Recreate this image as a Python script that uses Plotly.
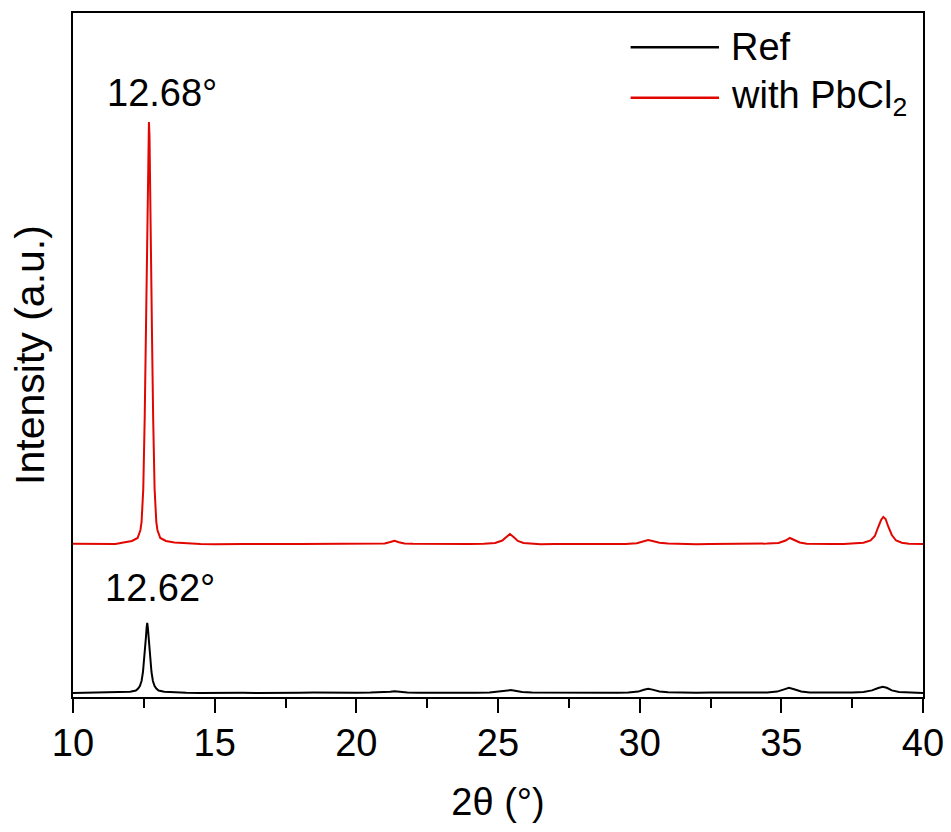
import plotly.graph_objects as go

# XRD patterns, 2θ in degrees vs. intensity (a.u.)
ref_2theta = [10.0, 10.5, 11.0, 11.5, 11.62, 12.02, 12.22, 12.30, 12.36, 12.42, 12.47, 12.51,
              12.545, 12.575, 12.60, 12.62, 12.64, 12.665, 12.695, 12.73, 12.77, 12.82, 12.88,
              12.94, 13.02, 13.22, 13.62, 14.0, 14.5, 15.0, 15.5, 16.0, 16.5, 17.0, 17.5, 18.0,
              18.5, 19.0, 19.5, 20.0, 20.5, 21.0, 21.2, 21.35, 21.5, 21.8, 22.2, 22.7, 23.2,
              23.7, 24.2, 24.7, 25.05, 25.3, 25.45, 25.6, 25.85, 26.2, 26.7, 27.2, 27.7, 28.2,
              28.7, 29.2, 29.6, 29.95, 30.15, 30.3, 30.45, 30.7, 31.0, 31.5, 32.0, 32.5, 33.0,
              33.5, 34.0, 34.5, 34.85, 35.1, 35.27, 35.45, 35.7, 36.0, 36.5, 37.0, 37.5, 37.9,
              38.2, 38.42, 38.58, 38.72, 38.9, 39.15, 39.5, 39.8, 40.0]
ref_intensity = [4.0, 4.3, 4.0, 4.4, 4.4, 5.2, 6.5, 8.5, 11, 16, 25, 36,
                 48, 60, 70, 74, 70, 60, 48, 36, 25, 16, 11,
                 8.5, 6.5, 5.2, 4.4, 4.2, 4.0, 4.3, 4.1, 4.2, 4.0, 4.3, 4.1, 4.2,
                 4.4, 4.1, 4.3, 4.2, 4.4, 4.6, 5.3, 5.8, 5.2, 4.6, 4.3, 4.2, 4.4,
                 4.2, 4.3, 4.6, 5.6, 6.6, 6.9, 6.2, 5.0, 4.4, 4.3, 4.1, 4.3, 4.2,
                 4.4, 4.2, 4.5, 5.4, 7.3, 8.3, 7.4, 5.6, 4.7, 4.3, 4.2, 4.4, 4.2,
                 4.3, 4.4, 4.6, 5.4, 7.6, 9.2, 7.8, 5.5, 4.6, 4.3, 4.2, 4.4, 5.0,
                 6.6, 9.0, 10.3, 9.2, 6.6, 5.0, 4.4, 4.2, 4.1]

pbcl2_2theta = [10.0, 10.5, 11.0, 11.5, 11.78, 12.08, 12.28, 12.38, 12.42, 12.48, 12.53, 12.57,
                12.60, 12.63, 12.66, 12.68, 12.70, 12.73, 12.76, 12.79, 12.83, 12.88, 12.94,
                12.98, 13.08, 13.28, 13.58, 14.0, 14.5, 15.0, 15.5, 16.0, 16.5, 17.0, 17.5,
                18.0, 18.5, 19.0, 19.5, 20.0, 20.5, 21.0, 21.2, 21.35, 21.5, 21.7, 22.0, 22.5,
                23.0, 23.5, 24.0, 24.5, 24.9, 25.15, 25.3, 25.42, 25.55, 25.7, 25.9, 26.2,
                26.5, 27.0, 27.5, 28.0, 28.5, 29.0, 29.5, 29.9, 30.15, 30.3, 30.45, 30.7, 31.0,
                31.5, 32.0, 32.5, 33.0, 33.5, 34.0, 34.5, 34.9, 35.15, 35.3, 35.45, 35.65,
                35.9, 36.3, 36.8, 37.2, 37.6, 37.9, 38.15, 38.3, 38.42, 38.52, 38.6, 38.68,
                38.78, 38.9, 39.05, 39.25, 39.5, 39.8, 40.0]
pbcl2_intensity = [5.2, 4.9, 5.3, 5.0, 6.5, 8, 11, 19, 27, 60, 130, 210,
                   285, 360, 413, 427, 413, 360, 285, 210, 130, 60, 27,
                   19, 11, 8, 6.5, 5.6, 5.1, 4.8, 5.2, 4.9, 5.0, 4.7, 5.1,
                   4.9, 5.0, 5.2, 4.9, 5.0, 5.3, 5.6, 7.0, 8.2, 6.8, 5.6, 5.2, 5.0,
                   4.8, 5.1, 5.0, 5.3, 6.0, 8.5, 12.5, 15.0, 12.0, 8.0, 6.0, 5.2,
                   4.8, 5.0, 4.9, 5.1, 5.0, 5.2, 5.1, 5.8, 7.8, 9.0, 8.0, 6.3, 5.4,
                   5.0, 4.8, 5.0, 5.1, 4.9, 5.2, 5.4, 6.0, 8.5, 11.0, 9.0, 6.5,
                   5.3, 4.9, 5.0, 5.1, 5.4, 6.2, 8.5, 13.0, 22.0, 29.0, 32.0, 30.0,
                   22.0, 14.0, 8.5, 6.2, 5.2, 5.0, 4.9]

# vertical offset used to stack the PbCl2 pattern above the reference
pbcl2_offset = 148

peak_labels = [("12.62°", 12.62, 109), ("12.68°", 12.68, 604)]

font_family = "Liberation Sans, Arial, sans-serif"
red = "#e10600"

fig = go.Figure()
fig.add_trace(go.Scatter(x=ref_2theta, y=ref_intensity, mode="lines",
                         line=dict(color="black", width=2), name="Ref"))
fig.add_trace(go.Scatter(x=pbcl2_2theta, y=[v + pbcl2_offset for v in pbcl2_intensity],
                         mode="lines", line=dict(color=red, width=2), name="with PbCl2"))

for text, x, y in peak_labels:
    fig.add_annotation(x=x, y=y, text=text, showarrow=False, xshift=13,
                       font=dict(family=font_family, size=38, color="black"))

# legend drawn as line samples with labels in the upper right corner
legend_rows = [("Ref", "black", 0.950), ("with PbCl<sub>2</sub>", red, 0.876)]
for label, color, yp in legend_rows:
    fig.add_shape(type="line", xref="paper", yref="paper", x0=0.656, x1=0.760, y0=yp, y1=yp,
                  line=dict(color=color, width=2.5))
    fig.add_annotation(xref="paper", yref="paper", x=0.772, y=yp, text=label, showarrow=False,
                       xanchor="left", yanchor="middle",
                       font=dict(family=font_family, size=38, color="black"))

fig.update_layout(
    width=951, height=832,
    margin=dict(l=73, r=28, t=13, b=135),
    paper_bgcolor="white", plot_bgcolor="white",
    showlegend=False,
    font=dict(family=font_family, size=38, color="black"),
)
fig.update_xaxes(
    range=[10, 40], tickvals=[10, 15, 20, 25, 30, 35, 40],
    ticks="outside", ticklen=14, tickwidth=2, tickcolor="black",
    minor=dict(ticks="outside", ticklen=9, tickwidth=2, tickcolor="black", dtick=2.5, tick0=10),
    showline=True, linewidth=2, linecolor="black", mirror=True,
    showgrid=False, zeroline=False, automargin=False,
    tickfont=dict(family=font_family, size=38), ticklabelstandoff=-3,
    title=dict(text="2θ (°)", font=dict(family=font_family, size=38), standoff=26),
)
fig.update_yaxes(
    range=[0, 684], showticklabels=False, ticks="",
    showline=True, linewidth=2, linecolor="black", mirror=True,
    showgrid=False, zeroline=False, automargin=False,
    title=dict(text="Intensity (a.u.)", font=dict(family=font_family, size=41), standoff=14),
)

fig.write_html("out.html")
